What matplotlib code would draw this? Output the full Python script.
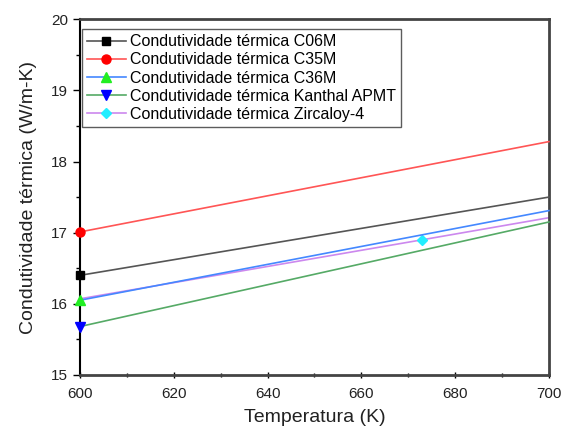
import matplotlib.pyplot as plt

plt.rcParams['font.family'] = ['Liberation Sans', 'DejaVu Sans']

temp = [600, 700]
c06m = [16.40, 17.50]
c35m = [17.01, 18.28]
c36m = [16.05, 17.31]
kanthal = [15.68, 17.15]
zirc_temp = [600, 673, 700]
zirc = [16.07, 16.90, 17.21]

labels = ['Condutividade térmica C06M', 'Condutividade térmica C35M',
          'Condutividade térmica C36M', 'Condutividade térmica Kanthal APMT',
          'Condutividade térmica Zircaloy-4']

fig, ax = plt.subplots(figsize=(5.63, 4.28), dpi=100)
fig.subplots_adjust(left=0.142, right=0.975, top=0.955, bottom=0.124)

ax.plot(temp, c06m, color='#555555', lw=1.2, marker='s', mfc='black', mec='black',
        ms=5.5, markevery=[0], label=labels[0], clip_on=False, zorder=3)
ax.plot(temp, c35m, color='#ff5555', lw=1.2, marker='o', mfc='red', mec='red',
        ms=6.5, markevery=[0], label=labels[1], clip_on=False, zorder=3)
ax.plot(temp, c36m, color='#4488ff', lw=1.2, marker='^', mfc='#22ee22', mec='#22ee22',
        ms=7, markevery=[0], label=labels[2], clip_on=False, zorder=3)
ax.plot(temp, kanthal, color='#55aa66', lw=1.2, marker='v', mfc='#0000ff', mec='#0000ff',
        ms=7, markevery=[0], label=labels[3], clip_on=False, zorder=3)
ax.plot(zirc_temp, zirc, color='#cc88ee', lw=1.2, marker='D', mfc='#22eeff', mec='#22eeff',
        ms=5, markevery=[1], label=labels[4], clip_on=False, zorder=2)

ax.set_xlim(600, 700)
ax.set_ylim(15, 20)
ax.set_xticks(range(600, 701, 20))
ax.set_xticks(range(600, 701, 10), minor=True)
ax.set_yticks(range(15, 21))
ax.set_yticks([15.5, 16.5, 17.5, 18.5, 19.5], minor=True)
ax.tick_params(which='major', length=5, width=1, labelsize=11, colors='black',
               labelcolor='#222222')
ax.tick_params(which='minor', length=3, width=1)
ax.tick_params(axis='x', which='both', direction='inout', pad=6)

for s in ['top', 'right', 'bottom']:
    ax.spines[s].set_color('#444444')
    ax.spines[s].set_linewidth(2)
ax.spines['left'].set_color('black')
ax.spines['left'].set_linewidth(1.5)

ax.set_xlabel('Temperatura (K)', fontsize=14, labelpad=6, color='#222222')
ax.set_ylabel('Condutividade térmica (W/m-K)', fontsize=14, labelpad=10, color='#222222')

leg = ax.legend(loc='upper left', bbox_to_anchor=(-0.005, 0.985), fontsize=11.5,
                frameon=True, fancybox=False, edgecolor='#333333', borderaxespad=0.3,
                handlelength=2.4, labelspacing=0.2, borderpad=0.3, handletextpad=0.3)
leg.get_frame().set_linewidth(1)

plt.savefig('out.png')
